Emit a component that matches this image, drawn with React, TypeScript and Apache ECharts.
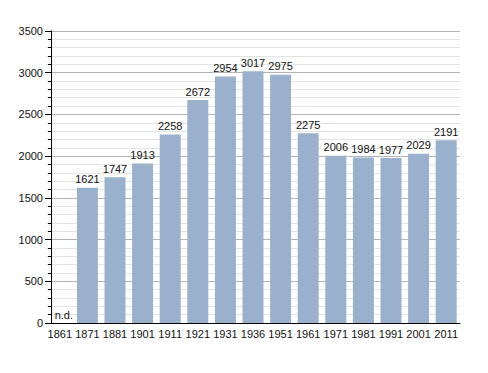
import React, { useEffect, useRef } from "react";
import * as echarts from "echarts";

const years = ["1861", "1871", "1881", "1901", "1911", "1921", "1931", "1936", "1951", "1961", "1971", "1981", "1991", "2001", "2011"];
const population = [0, 1621, 1747, 1913, 2258, 2672, 2954, 3017, 2975, 2275, 2006, 1984, 1977, 2029, 2191];
const missing = ["1861"];

const font = "Liberation Sans, Arial, sans-serif";

export default function App() {
  const ref = useRef<HTMLDivElement>(null);
  useEffect(() => {
    const chart = echarts.init(ref.current!, null, { renderer: "svg" });
    const data = population.map((v, i) =>
      missing.includes(years[i]) ? { value: v, label: { offset: [4, 0] } } : v
    );
    chart.setOption({
      animation: false,
      grid: { left: 46, right: 28, top: 31, bottom: 50 },
      xAxis: {
        type: "category",
        data: years,
        axisLine: { show: true, lineStyle: { color: "#000", width: 1 } },
        axisTick: { show: false },
        axisLabel: { color: "#111", fontSize: 11, fontFamily: font, margin: 5, interval: 0 },
      },
      yAxis: {
        type: "value",
        min: 0,
        max: 3500,
        interval: 500,
        offset: -5,
        axisLine: { show: true, lineStyle: { color: "#000", width: 1 } },
        axisTick: { show: true, length: 6, lineStyle: { color: "#000" } },
        minorTick: { show: true, splitNumber: 5, length: 3, lineStyle: { color: "#000" } },
        splitLine: { show: true, lineStyle: { color: "#b4b4b4", width: 1 } },
        minorSplitLine: { show: true, lineStyle: { color: "#e4e4e4", width: 1 } },
        axisLabel: { color: "#111", fontSize: 11, fontFamily: font, margin: 8, formatter: (v: number) => String(v) },
      },
      series: [
        {
          type: "bar",
          data,
          barCategoryGap: "24%",
          itemStyle: { color: "#99b1cc" },
          label: {
            show: true,
            position: "top",
            distance: 3,
            color: "#111",
            fontSize: 11,
            fontFamily: font,
            formatter: (p: any) => (missing.includes(p.name) ? "n.d." : String(p.value)),
          },
        },
      ],
    });
    return () => chart.dispose();
  }, []);
  return <div ref={ref} style={{ width: 488, height: 373, position: "absolute", left: 0, top: 0 }} />;
}
